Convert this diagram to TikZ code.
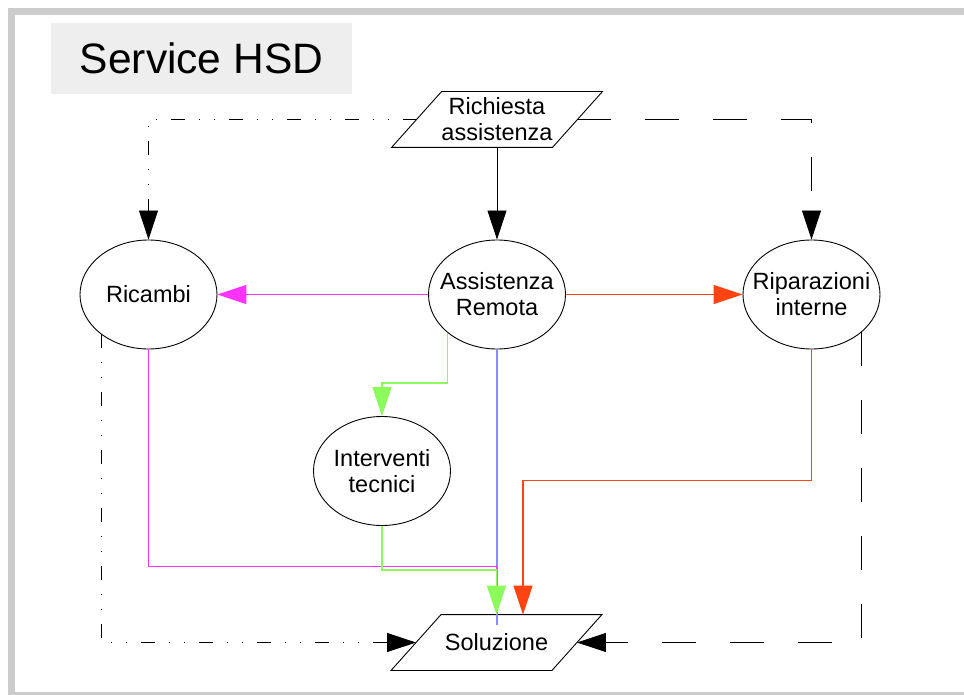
\documentclass[tikz,border=0pt]{standalone}
\usepackage{fontspec}
\setmainfont{Liberation Sans}
\usetikzlibrary{arrows.meta,shapes.geometric}
\definecolor{framegray}{RGB}{204,204,204}
\definecolor{titlegray}{RGB}{238,238,238}
\definecolor{flowmag}{RGB}{255,51,255}
\definecolor{flowred}{RGB}{255,68,17}
\definecolor{flowgreen}{RGB}{140,250,90}
\definecolor{flowblue}{RGB}{140,140,255}

\begin{document}
\begin{tikzpicture} [
    x=1pt, y=-1pt, line width=0.9pt,
    >={Triangle[width=19pt,length=29pt]},
    every node/.append style={align=center, font=\fontsize{23.5}{26}\selectfont},
    task/.style={draw, ellipse, minimum width=137pt, minimum height=109pt, inner xsep=-12pt, inner ysep=0pt},
    io/.style={minimum width=160pt, minimum height=55pt, inner sep=0pt},
    flow/.style={line width=1.3pt},
    dashdot/.style={black, dash pattern=on 14pt off 14pt on 1pt off 14pt on 1pt off 14pt},
    longdash/.style={black, dash pattern=on 34pt off 34pt}
  ]

  \path [use as bounding box, clip] (0,0) rectangle (964,695);
  \draw [framegray, line width=7pt] (11.5,11.5) rectangle (990,695.5);
  \node [fill=titlegray, minimum width=301pt, minimum height=71pt,
         font=\fontsize{42.5}{50}\selectfont] (title) at (201.5,58.5) {Service HSD};

  \node [io] (richiesta) at (497,119.5) {Richiesta\\assistenza};
  \node [task] (ricambi) at (148.5,294.5) {Ricambi};
  \node [task] (remota) at (497,294.5) {Assistenza\\Remota};
  \node [task] (riparazioni) at (811.5,294.5) {Riparazioni\\interne};
  \node [task] (interventi) at (382,471) {Interventi\\tecnici};
  \node [io] (soluzione) at (496.5,642.5) {Soluzione};

  % slanted input/output boxes
  \foreach \n in {richiesta,soluzione}
    \draw ([xshift=25pt]\n.north west) -- ([xshift=25pt]\n.north east)
      -- ([xshift=-25pt]\n.south east) -- ([xshift=-25pt]\n.south west) -- cycle;

  \draw [->] (richiesta.south) -- (remota.north);
  \draw [dashdot, ->] (richiesta.west) -| (ricambi.north);
  \draw [longdash, ->] (richiesta.east) -| (riparazioni.north);

  \begin{scope} [every path/.style={flow}]
    \draw [flowmag, ->] (remota.west) -- (ricambi.east);
    \draw [flowred, ->] (remota.east) -- (riparazioni.west);
    \draw [flowgreen, <-] (interventi.north) -- ++(0,-33) -| (remota.218);

    % everything ends up in Soluzione
    \draw [flowblue] (remota.south) -- ++(0,276);
    \draw [flowmag] (ricambi.south) -- ++(0,217) -| (soluzione.north);
    \draw [flowgreen, ->] (interventi.south) -- ++(0,44) -| (soluzione.north);
    \draw [flowred, <-] ([xshift=26.5pt]soluzione.north) -- ++(0,-134) -| (riparazioni.south);
  \end{scope}
  \draw [dashdot, ->] (ricambi.220) |- (soluzione.west);
  \draw [longdash, ->] (riparazioni.-37) |- (soluzione.east);
\end{tikzpicture}
\end{document}
